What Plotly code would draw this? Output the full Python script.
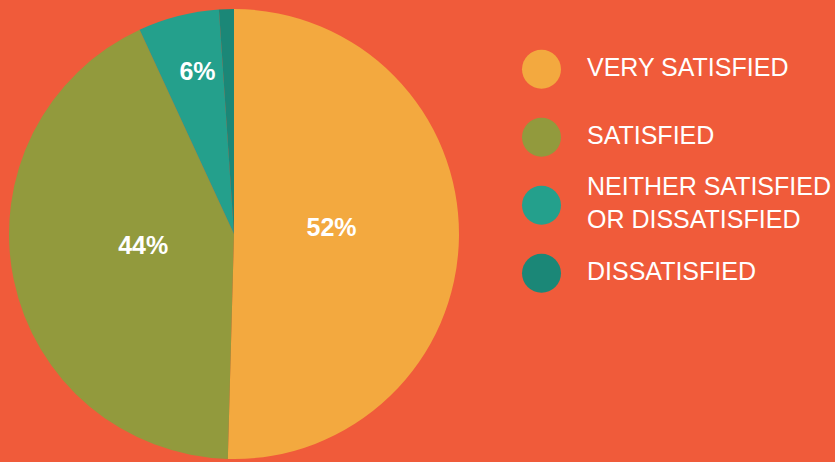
import plotly.graph_objects as go

# ---- data ----
categories = ["VERY SATISFIED", "SATISFIED", "NEITHER SATISFIED OR DISSATISFIED", "DISSATISFIED"]
legend_labels = ["VERY SATISFIED", "SATISFIED", "NEITHER SATISFIED<br>OR DISSATISFIED", "DISSATISFIED"]
values = [52, 44, 6, 1.1]
slice_text = ["52%", "44%", "6%", ""]
colors = ["#F3A93F", "#929A3D", "#24A08C", "#1B8777"]
legend_index = [0, 1, 2, 3]

BG = "#F05B3A"
FONT = "Liberation Sans, Arial, Helvetica, sans-serif"
W, H = 835, 462
CX, CY, R = 234, 234, 225           # pie centre / radius in px
LCX, LCY = 237, 226                 # centre of label-carrying overlay
LABEL_R = 0.84 * R                  # radius of the label-carrying overlay


def dom(cx, cy, r):
    return dict(x=[(cx - r) / W, (cx + r) / W], y=[(H - cy - r) / H, (H - cy + r) / H])


fig = go.Figure()

# visible pie
fig.add_trace(go.Pie(
    labels=categories,
    values=values,
    textinfo="none",
    marker=dict(colors=colors, line=dict(width=0)),
    sort=False,
    direction="clockwise",
    rotation=0,
    showlegend=False,
    hoverinfo="skip",
    domain=dom(CX, CY, R),
))

# transparent overlay carrying the percentage labels
fig.add_trace(go.Pie(
    labels=categories,
    values=values,
    text=slice_text,
    texttemplate="<b>%{text}</b>",
    textposition="inside",
    insidetextorientation="horizontal",
    insidetextfont=dict(color="white", size=25, family=FONT),
    marker=dict(colors=["rgba(0,0,0,0)"] * len(values), line=dict(width=0)),
    sort=False,
    direction="clockwise",
    rotation=0,
    showlegend=False,
    hoverinfo="skip",
    domain=dom(LCX, LCY, LABEL_R),
))

# custom legend: big circles + labels on hidden axes
fig.add_trace(go.Scatter(
    x=[0] * len(legend_index),
    y=legend_index,
    mode="markers",
    marker=dict(size=39, color=colors, line=dict(width=0)),
    showlegend=False,
    hoverinfo="skip",
))
fig.add_trace(go.Scatter(
    x=[0.084] * len(legend_index),
    y=legend_index,
    mode="text",
    text=legend_labels,
    textposition="middle right",
    textfont=dict(color="white", size=25, family=FONT),
    showlegend=False,
    hoverinfo="skip",
))

fig.update_layout(
    width=W, height=H,
    margin=dict(l=0, r=0, t=0, b=0),
    paper_bgcolor=BG,
    plot_bgcolor="rgba(0,0,0,0)",
    xaxis=dict(visible=False, range=[-1.0, 0.542], domain=[0, 1], fixedrange=True),
    yaxis=dict(visible=False, range=[(H - 69.3) / 68, -69.3 / 68], domain=[0, 1], fixedrange=True),
    showlegend=False,
)

fig.write_html("out.html", config={"displayModeBar": False})
